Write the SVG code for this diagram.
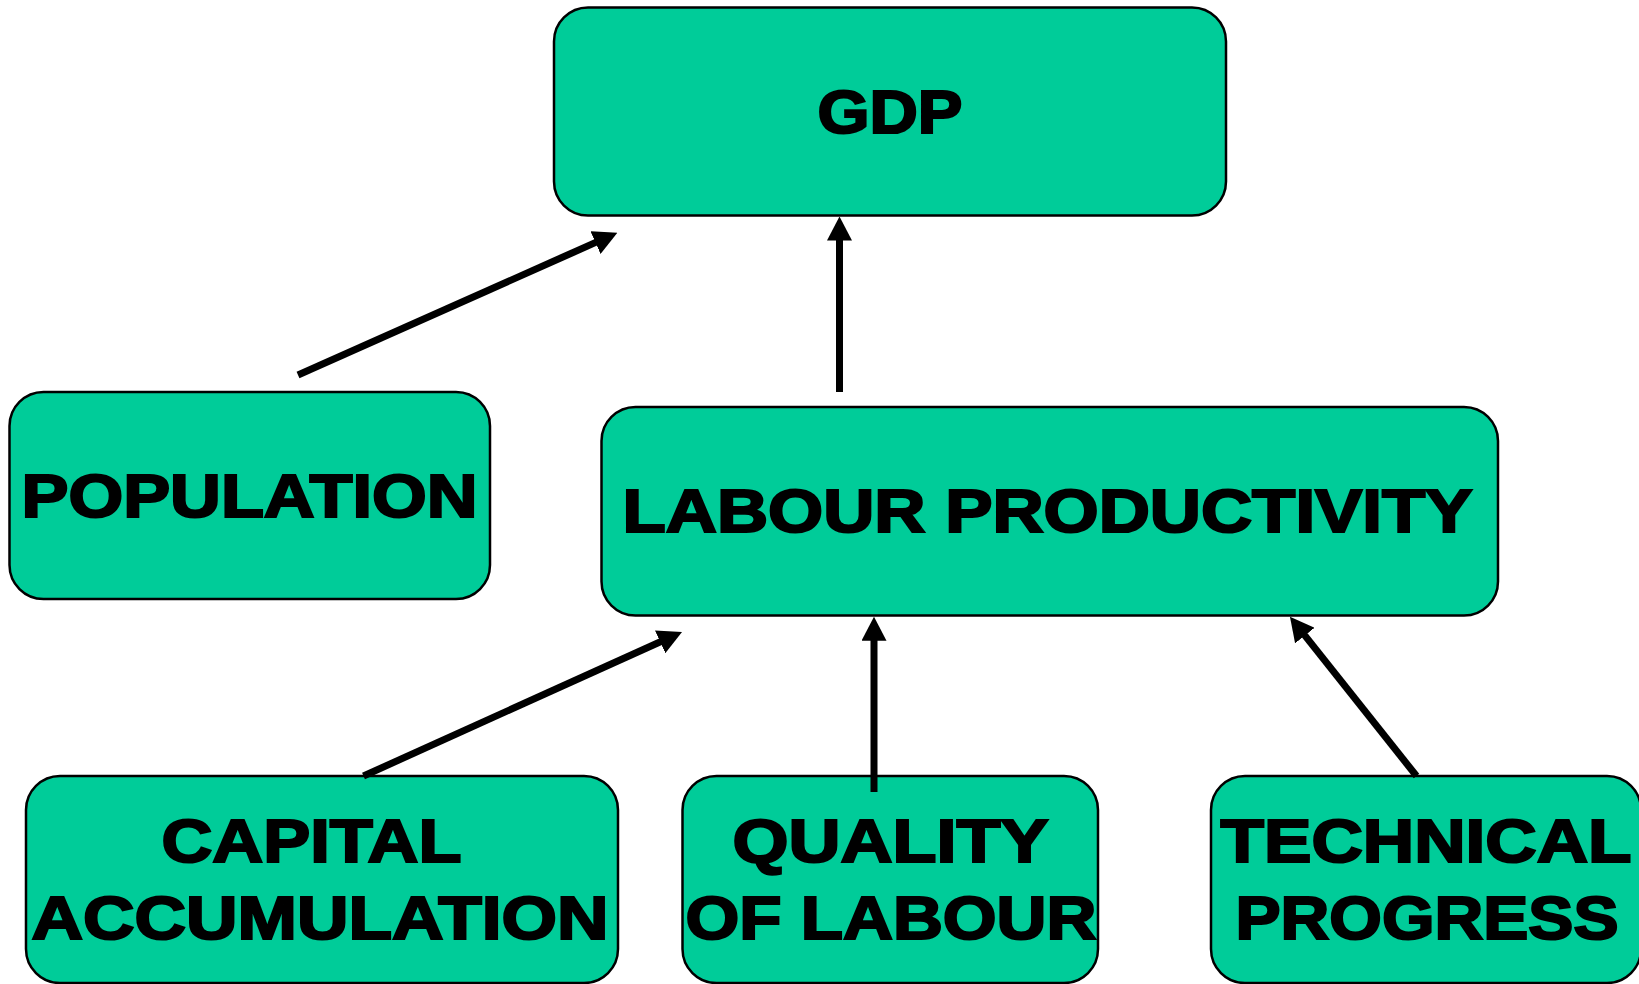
<svg xmlns="http://www.w3.org/2000/svg" width="1639" height="984" viewBox="0 0 1639 984">
<defs>
<style>
.box{fill:#00CC99;stroke:#000;stroke-width:2.5}
.lbl{font-family:"Liberation Sans",Arial,sans-serif;font-weight:bold;font-size:62px;fill:#000;stroke:#000;stroke-width:2.2;stroke-linejoin:miter;text-anchor:middle}
.conn{fill:none;stroke:#000;stroke-width:7;marker-end:url(#ah)}
</style>
<marker id="ah" markerUnits="userSpaceOnUse" viewBox="0 0 24 25" markerWidth="24" markerHeight="25" refX="4" refY="12.5" orient="auto">
<path d="M0,0 L24,12.5 L0,25 Z" fill="#000"/>
</marker>
</defs>
<rect width="1639" height="984" fill="#fff"/>
<g id="gdp">
<rect class="box" x="554" y="7.5" width="672" height="208" rx="34" ry="34"/>
<text class="lbl" x="890" y="133" textLength="145" lengthAdjust="spacingAndGlyphs">GDP</text>
</g>
<g id="population">
<rect class="box" x="9.5" y="392" width="480.5" height="207" rx="34" ry="34"/>
<text class="lbl" x="249.5" y="516.5" textLength="456" lengthAdjust="spacingAndGlyphs">POPULATION</text>
</g>
<g id="labour-productivity">
<rect class="box" x="601.5" y="407" width="896.5" height="208.5" rx="34" ry="34"/>
<text class="lbl" x="1047.5" y="532" textLength="850" lengthAdjust="spacingAndGlyphs">LABOUR PRODUCTIVITY</text>
</g>
<g id="capital-accumulation">
<rect class="box" x="26" y="776" width="592" height="207" rx="34" ry="34"/>
<text class="lbl" x="311.5" y="862" textLength="300" lengthAdjust="spacingAndGlyphs">CAPITAL</text>
<text class="lbl" x="320" y="939" textLength="577" lengthAdjust="spacingAndGlyphs">ACCUMULATION</text>
</g>
<g id="quality-of-labour">
<rect class="box" x="682.5" y="776" width="415.5" height="207" rx="34" ry="34"/>
<text class="lbl" x="890.5" y="862" textLength="316" lengthAdjust="spacingAndGlyphs">QUALITY</text>
<text class="lbl" x="891" y="939" textLength="411" lengthAdjust="spacingAndGlyphs">OF LABOUR</text>
</g>
<g id="technical-progress">
<rect class="box" x="1211" y="776" width="430" height="207" rx="34" ry="34"/>
<text class="lbl" x="1426" y="862" textLength="411" lengthAdjust="spacingAndGlyphs">TECHNICAL</text>
<text class="lbl" x="1427" y="939" textLength="383" lengthAdjust="spacingAndGlyphs">PROGRESS</text>
</g>
<g id="connectors">
<path class="conn" d="M298,375 L599.1,240.9"/>
<path class="conn" d="M839.5,392 L839.5,236.5"/>
<path class="conn" d="M363.5,776 L663.8,640.2"/>
<path class="conn" d="M874,792 L874,636.7"/>
<path class="conn" d="M1416.5,776 L1302.4,632.4"/>
</g>
</svg>
